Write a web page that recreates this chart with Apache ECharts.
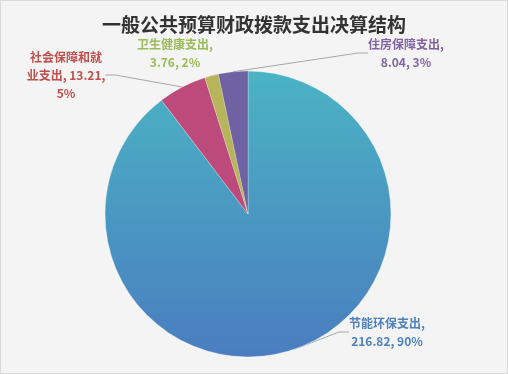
<!DOCTYPE html>
<html>
<head>
<meta charset="utf-8">
<script src="https://cdn.jsdelivr.net/npm/echarts@6/dist/echarts.min.js"></script>
<style>
html,body{margin:0;padding:0;background:#fff;}
#c{position:absolute;left:0;top:0;width:506px;height:372px;border:1px solid #d9d9d9;background:#f4f4f4;}
</style>
</head>
<body>
<div id="c"></div>
<script>
const titleText = '一般公共预算财政拨款支出决算结构';
const categories = ['节能环保支出', '社会保障和就业支出', '卫生健康支出', '住房保障支出'];
const values = [216.82, 13.21, 3.76, 8.04];
const sliceColors = [null, '#BC4B7C', '#B7B55B', '#6E62A2'];
const labelColors = ['#4F81BD', '#C0504D', '#9BBB59', '#8064A2'];
const labelPos = [[386, 331], [65, 74], [174, 52], [405, 52]];

const chart = echarts.init(document.getElementById('c'), null, {renderer: 'canvas'});
const bigGradient = new echarts.graphic.LinearGradient(0, 0, 0, 1, [
  {offset: 0, color: '#4BB3C4'},
  {offset: 1, color: '#4A7DC0'}
]);
const data = categories.map((n, i) => ({
  name: n,
  value: values[i],
  itemStyle: {color: i === 0 ? bigGradient : sliceColors[i]},
  label: {color: labelColors[i]},
  labelLine: {show: i !== 2}
}));
chart.setOption({
  title: {
    text: titleText, left: 'center', top: 9,
    textStyle: {fontFamily: 'Noto Sans CJK SC', fontSize: 19, fontWeight: 'bold', color: '#333'}
  },
  series: [{
    type: 'pie',
    center: [247, 213],
    radius: 143,
    startAngle: 90,
    clockwise: true,
    percentPrecision: 0,
    data: data,
    itemStyle: {borderColor: 'rgba(255,255,255,0.4)', borderWidth: 0.5},
    label: {
      show: true,
      fontFamily: 'Noto Sans CJK SC',
      fontSize: 12,
      fontWeight: 'bold',
      lineHeight: 18,
      align: 'center',
      formatter: function (p) {
        if (p.name.length > 6) {
          return p.name.slice(0, 6) + '\n' + p.name.slice(6) + ', ' + p.value + ',\n' + p.percent + '%';
        }
        return p.name + ',\n' + p.value + ', ' + p.percent + '%';
      }
    },
    labelLine: {show: true, lineStyle: {color: '#a6a6a6', width: 1}, length: 10, length2: 10},
    labelLayout: function (params) {
      const p = labelPos[params.dataIndex];
      return {x: p[0], y: p[1], align: 'center', verticalAlign: 'middle'};
    }
  }]
});
</script>
</body>
</html>
